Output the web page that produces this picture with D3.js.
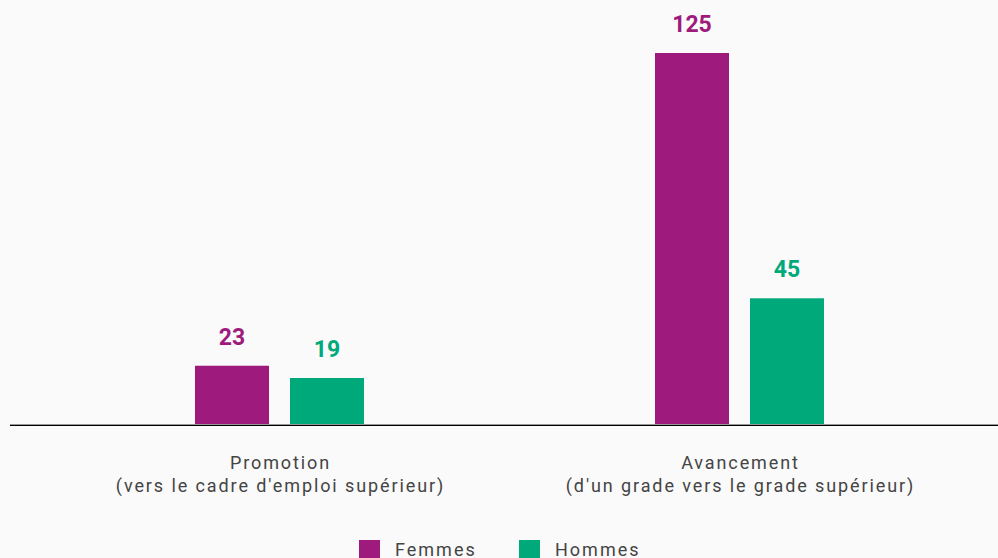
<!DOCTYPE html>
<html>
<head>
<meta charset="utf-8">
<script src="https://cdn.jsdelivr.net/npm/d3@7"></script>
<style>
  body { margin: 0; background: #fafafa; }
  svg { display: block; }
</style>
</head>
<body>
<script>
// data
var categories = ["Promotion", "Avancement"];
var categorySubtitles = ["(vers le cadre d'emploi supérieur)", "(d'un grade vers le grade supérieur)"];
var seriesNames = ["Femmes", "Hommes"];
var femmesValues = [23, 125];
var hommesValues = [19, 45];

var colors = { "Femmes": "#9f1a7d", "Hommes": "#00a97a" };

var width = 998, height = 558;
var axisY = 424;

var svg = d3.select("body")
  .append("svg")
  .attr("width", width)
  .attr("height", height)
  .style("font-family", "Roboto, 'Noto Sans', sans-serif");

svg.append("rect")
  .attr("width", width)
  .attr("height", height)
  .attr("fill", "#fafafa");

var rows = categories.map(function(c, i) {
  return { cat: c, sub: categorySubtitles[i], Femmes: femmesValues[i], Hommes: hommesValues[i] };
});

var x0 = d3.scaleBand()
  .domain(categories)
  .range([49.5, 969.5])
  .padding(0);

var x1 = d3.scaleBand()
  .domain(seriesNames)
  .range([145.5, 314.5])
  .paddingInner(21 / 95);

var y = d3.scaleLinear()
  .domain([4, 125])
  .range([axisY, 53]);

var groups = svg.append("g")
  .selectAll("g")
  .data(rows)
  .enter()
  .append("g")
  .attr("transform", d => "translate(" + x0(d.cat) + ",0)");

var bars = groups.selectAll("g.bar")
  .data(d => seriesNames.map(s => ({ key: s, value: d[s] })))
  .enter()
  .append("g")
  .attr("class", "bar");

bars.append("rect")
  .attr("x", d => x1(d.key))
  .attr("y", d => y(d.value))
  .attr("width", x1.bandwidth())
  .attr("height", d => axisY - y(d.value))
  .attr("fill", d => colors[d.key]);

bars.append("text")
  .text(d => d.value)
  .attr("x", d => x1(d.key) + x1.bandwidth() / 2)
  .attr("y", d => y(d.value) - 21)
  .attr("text-anchor", "middle")
  .attr("fill", d => colors[d.key])
  .style("font-size", "23px")
  .style("font-weight", "bold");

// axis line
svg.append("line")
  .attr("x1", 10).attr("x2", width)
  .attr("y1", axisY + 0.5).attr("y2", axisY + 0.5)
  .attr("stroke", "#999");
svg.append("line")
  .attr("x1", 10).attr("x2", width)
  .attr("y1", axisY + 1.5).attr("y2", axisY + 1.5)
  .attr("stroke", "#000");

// category labels
var labels = svg.append("g")
  .selectAll("text")
  .data(rows)
  .enter()
  .append("text")
  .attr("text-anchor", "middle")
  .attr("fill", "#444")
  .style("font-size", "18px")
  .style("letter-spacing", "1.9px");

labels.append("tspan")
  .attr("x", d => x0(d.cat) + x0.bandwidth() / 2 + 1)
  .attr("y", 469)
  .text(d => d.cat);

labels.append("tspan")
  .attr("x", d => x0(d.cat) + x0.bandwidth() / 2 + 1)
  .attr("y", 492)
  .text(d => d.sub);

// legend
var legendX = [359, 519];
var legend = svg.append("g")
  .selectAll("g")
  .data(seriesNames)
  .enter()
  .append("g")
  .attr("transform", (d, i) => "translate(" + legendX[i] + ",540)");

legend.append("rect")
  .attr("width", 21)
  .attr("height", 21)
  .attr("fill", d => colors[d]);

legend.append("text")
  .text(d => d)
  .attr("x", 36)
  .attr("y", 15.5)
  .attr("fill", "#444")
  .style("font-size", "18px")
  .style("letter-spacing", "2px");
</script>
</body>
</html>
